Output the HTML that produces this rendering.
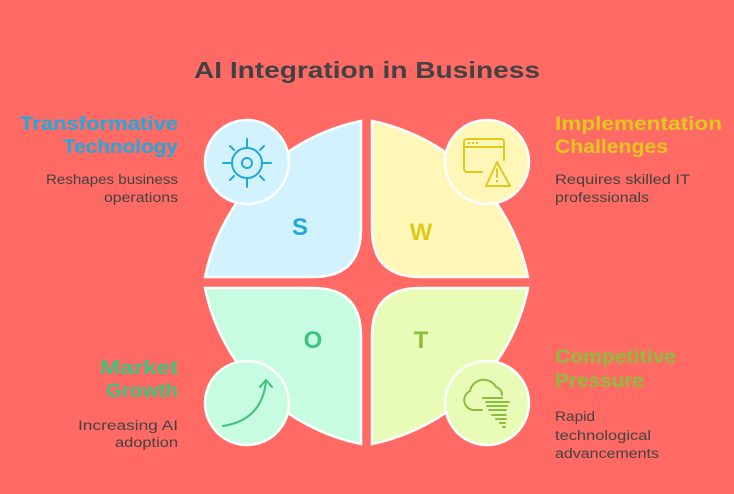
<!DOCTYPE html>
<html><head><meta charset="utf-8"><style>html,body{margin:0;padding:0;background:#ff6b66}svg{display:block}text{font-family:"Liberation Sans",sans-serif}</style></head><body>
<svg width="734" height="494" viewBox="0 0 734 494" xmlns="http://www.w3.org/2000/svg">
<rect width="734" height="494" fill="#ff6a65"/>
<text x="367" y="78" text-anchor="middle" font-size="23" font-weight="bold" fill="#424242" textLength="346" lengthAdjust="spacingAndGlyphs">AI Integration in Business</text>
<g stroke="#fff" stroke-width="2.5">
<path d="M205 277 A200 200 0 0 1 361 121 L361 229 Q361 277 313 277 Z" fill="#d2f3fd"/>
<path d="M528 277 A200 200 0 0 0 372 121 L372 229 Q372 277 420 277 Z" fill="#fef7b8"/>
<path d="M205 288 A200 200 0 0 0 361 444 L361 336 Q361 288 313 288 Z" fill="#c8fce2"/>
<path d="M528 288 A200 200 0 0 1 372 444 L372 336 Q372 288 420 288 Z" fill="#e8fcb7"/>
<circle cx="247" cy="162" r="42" fill="#d2f3fd"/>
<circle cx="487" cy="162" r="42" fill="#fef7b8"/>
<circle cx="247" cy="403" r="42" fill="#c8fce2"/>
<circle cx="487" cy="403" r="42" fill="#e8fcb7"/>
</g>
<g fill="none" stroke="#1fa9dc" stroke-width="2" stroke-linecap="round">
<circle cx="247" cy="163" r="15"/><circle cx="247" cy="163" r="5"/>
<path d="M247 139v8M247 179v8M223 163h8M263 163h8M230 146l4 4M260 176l4 4M264 146l-4 4M234 176l-4 4"/>
</g>
<g fill="none" stroke="#e3c81c" stroke-width="2" stroke-linecap="round" stroke-linejoin="round">
<path d="M482 172h-15a3 3 0 0 1 -3-3v-27a3 3 0 0 1 3-3h34a3 3 0 0 1 3 3v18M464 147h40"/>
<path d="M497 162l-11 24h24z M497 169v8"/>
</g>
<g fill="#e3c81c"><rect x="468" y="142" width="2" height="2"/><rect x="472" y="142" width="2" height="2"/><rect x="476" y="142" width="2" height="2"/><rect x="496" y="180" width="2" height="2"/></g>
<g fill="none" stroke="#3cc47c" stroke-width="2" stroke-linecap="round">
<path d="M223 426 Q262 420 266 381 M260 387l6-7 6 7"/>
</g>
<g fill="none" stroke="#8dbd3b" stroke-width="2" stroke-linecap="round">
<path d="M482 410h-9a10 10 0 0 1 -3-19 a14 14 0 0 1 26-4 a8 8 0 0 1 6 8"/>
<path d="M483 398h19M486 402h23M487 406h20M489 410h17M492 415h14M496 419h10M500 423h5M503 427h2"/>
</g>
<g font-weight="bold" font-size="24" text-anchor="middle">
<text x="300" y="235" fill="#1fa9dc">S</text>
<text x="421" y="240" fill="#e3c81c">W</text>
<text x="313" y="348" fill="#3cc47c">O</text>
<text x="421" y="348" fill="#8dbd3b">T</text>
</g>
<g font-weight="bold" font-size="19">
<text x="178" y="130" text-anchor="end" fill="#1fa9dc" textLength="158" lengthAdjust="spacingAndGlyphs">Transformative</text>
<text x="178" y="153" text-anchor="end" fill="#1fa9dc" textLength="115" lengthAdjust="spacingAndGlyphs">Technology</text>
<text x="555" y="130" fill="#e3c81c" textLength="167" lengthAdjust="spacingAndGlyphs">Implementation</text>
<text x="555" y="153" fill="#e3c81c" textLength="113" lengthAdjust="spacingAndGlyphs">Challenges</text>
<text x="178" y="374" text-anchor="end" fill="#3cc47c" textLength="78" lengthAdjust="spacingAndGlyphs">Market</text>
<text x="178" y="397" text-anchor="end" fill="#3cc47c" textLength="72" lengthAdjust="spacingAndGlyphs">Growth</text>
<text x="555" y="363" fill="#8dbd3b" textLength="121" lengthAdjust="spacingAndGlyphs">Competitive</text>
<text x="555" y="387" fill="#8dbd3b" textLength="89" lengthAdjust="spacingAndGlyphs">Pressure</text>
</g>
<g font-size="13.5" fill="#424242">
<text x="178" y="184" text-anchor="end" textLength="132" lengthAdjust="spacingAndGlyphs">Reshapes business</text>
<text x="178" y="202" text-anchor="end" textLength="74" lengthAdjust="spacingAndGlyphs">operations</text>
<text x="555" y="184" textLength="135" lengthAdjust="spacingAndGlyphs">Requires skilled IT</text>
<text x="555" y="202" textLength="94" lengthAdjust="spacingAndGlyphs">professionals</text>
<text x="178" y="430" text-anchor="end" textLength="100" lengthAdjust="spacingAndGlyphs">Increasing AI</text>
<text x="178" y="447" text-anchor="end" textLength="63" lengthAdjust="spacingAndGlyphs">adoption</text>
<text x="555" y="421" textLength="40" lengthAdjust="spacingAndGlyphs">Rapid</text>
<text x="555" y="440" textLength="96" lengthAdjust="spacingAndGlyphs">technological</text>
<text x="555" y="458" textLength="104" lengthAdjust="spacingAndGlyphs">advancements</text>
</g>
</svg>
</body></html>
